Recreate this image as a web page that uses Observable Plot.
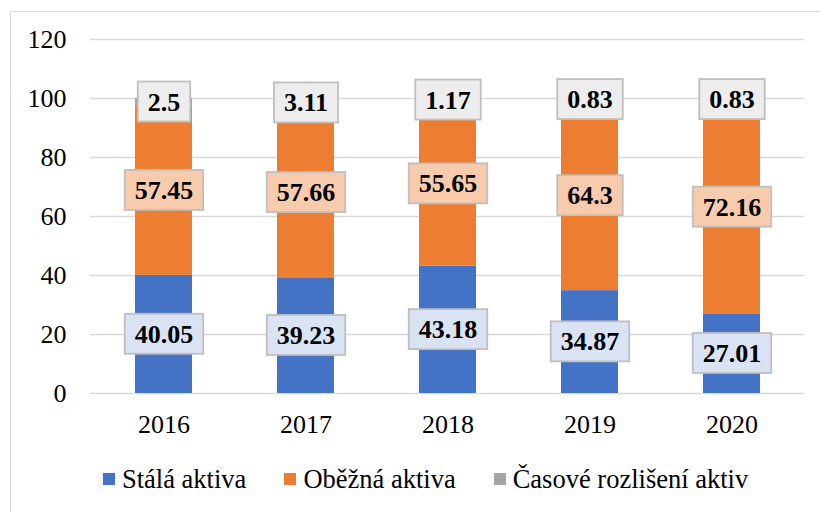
<!DOCTYPE html>
<html>
<head>
<meta charset="utf-8">
<script src="https://cdn.jsdelivr.net/npm/d3@7"></script>
<script src="https://cdn.jsdelivr.net/npm/@observablehq/plot@0.6"></script>
<style>
  html, body { margin: 0; padding: 0; background: #fff; }
  #wrap { position: relative; width: 820px; height: 512px; overflow: hidden; font-family: "Liberation Serif", "Times New Roman", serif; }
  #frame { position: absolute; left: 10px; top: 11px; width: 840px; height: 540px; border: 1.5px solid #d9d9d9; box-sizing: border-box; pointer-events: none; }
  #chart { position: absolute; left: 0; top: 0; }
  #legend { position: absolute; left: 103px; top: 462px; height: 34px; display: flex; align-items: center; font-size: 26.5px; color: #000; white-space: nowrap; }
  .item { display: flex; align-items: center; margin-right: 38px; }
  .sw { width: 12px; height: 12px; margin-right: 7px; }
</style>
</head>
<body>
<div id="wrap">
  <div id="frame"></div>
  <div id="chart"></div>
  <div id="legend"></div>
</div>
<script>
const years = ["2016", "2017", "2018", "2019", "2020"];
const seriesNames = ["Stálá aktiva", "Oběžná aktiva", "Časové rozlišení aktiv"];
const stala = [40.05, 39.23, 43.18, 34.87, 27.01];
const obezna = [57.45, 57.66, 55.65, 64.3, 72.16];
const casove = [2.5, 3.11, 1.17, 0.83, 0.83];
const yTicks = [0, 20, 40, 60, 80, 100, 120];

const barColors = ["#4472c4", "#ed7d31", "#a5a5a5"];
const boxFills = ["#dae3f3", "#f8cbad", "#ededed"];

const seriesValues = [stala, obezna, casove];
const data = [];
seriesNames.forEach((s, si) => {
  years.forEach((y, yi) => data.push({ year: y, series: s, value: seriesValues[si][yi] }));
});

const labelMarks = seriesNames.map((s, si) =>
  Plot.text(data, Plot.stackY({
    x: "year",
    y: "value",
    z: "series",
    order: seriesNames,
    text: d => d.series === s ? String(d.value) : null,
    fill: "#000",
    fontSize: 26,
    fontWeight: "bold",
    fontFamily: "Liberation Serif"
  }))
);

const chart = Plot.plot({
  width: 820,
  height: 450,
  marginLeft: 90,
  marginRight: 16,
  marginTop: 39,
  marginBottom: 57,
  style: { fontFamily: "Liberation Serif", fontSize: "26px", color: "#000", background: "transparent" },
  x: { domain: years, paddingInner: 0.6, paddingOuter: 0.3, label: null },
  y: { domain: [0, 120], label: null },
  color: { domain: seriesNames, range: barColors },
  marks: [
    Plot.ruleY(yTicks, { stroke: "#d9d9d9", strokeWidth: 1.5 }),
    Plot.barY(data, { x: "year", y: "value", fill: "series", order: seriesNames }),
    ...labelMarks,
    Plot.axisY({ ticks: yTicks, tickSize: 0, tickPadding: 24, label: null, fontSize: 26 }),
    Plot.axisX({ tickSize: 0, tickPadding: 21, label: null, fontSize: 26 })
  ]
});
document.getElementById("chart").appendChild(chart);

// label boxes behind each value label (the three label text marks, in mark order)
const labelGroups = Array.from(chart.querySelectorAll('g[aria-label="text"]'));
labelGroups.forEach((g, si) => {
  g.querySelectorAll("text").forEach(t => {
    const b = t.getBBox();
    const r = document.createElementNS("http://www.w3.org/2000/svg", "rect");
    const w = b.width + 20, h = 40;
    const cx = b.x + b.width / 2, cy = b.y + b.height / 2 - 0.5;
    r.setAttribute("x", cx - w / 2);
    r.setAttribute("y", cy - h / 2);
    r.setAttribute("width", w);
    r.setAttribute("height", h);
    r.setAttribute("fill", boxFills[si % 3]);
    r.setAttribute("stroke", "#bfbfbf");
    r.setAttribute("stroke-width", 1.8);
    const tr = t.getAttribute("transform");
    if (tr) r.setAttribute("transform", tr);
    t.parentNode.insertBefore(r, t);
  });
});

// legend
const legend = document.getElementById("legend");
seriesNames.forEach((s, i) => {
  const it = document.createElement("div");
  it.className = "item";
  const sw = document.createElement("div");
  sw.className = "sw";
  sw.style.background = barColors[i];
  const tx = document.createElement("span");
  tx.textContent = s;
  it.appendChild(sw);
  it.appendChild(tx);
  legend.appendChild(it);
});
</script>
</body>
</html>
